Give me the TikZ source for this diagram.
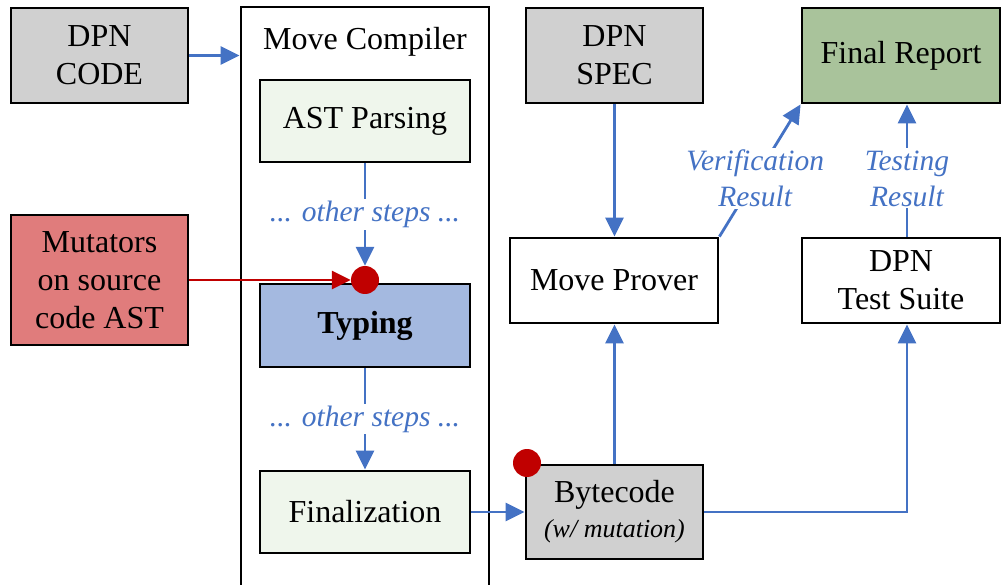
\documentclass[tikz,border=0pt]{standalone}
\usepackage{fontspec}
\setmainfont{Liberation Serif}
\usetikzlibrary{arrows.meta}
\definecolor{myblue}{HTML}{4472C4}
\definecolor{myred}{HTML}{C00000}
\definecolor{mygray}{HTML}{D0D0D0}
\definecolor{mygreen}{HTML}{EFF6EC}
\definecolor{mutred}{HTML}{E07C7C}
\definecolor{typblue}{HTML}{A4B9E0}
\definecolor{repgreen}{HTML}{A9C39B}
\begin{document}
\begin{tikzpicture}[x=1pt,y=-1pt,
  box/.style={draw=black,line width=2.8pt,rectangle,align=center,
    font=\fontsize{32}{38}\selectfont,inner sep=0pt},
  flow/.style={draw=myblue,line width=2.8pt,-{Triangle[length=19pt,width=18pt]}},
  redflow/.style={draw=myred,line width=2.8pt,-{Triangle[length=19pt,width=18pt]}},
  steplabel/.style={font=\fontsize{29.5}{36}\selectfont\itshape,text=myblue,
    fill=white,inner sep=2pt,align=center},
  dotnode/.style={circle,fill=myred,minimum size=28pt,inner sep=0pt}]
\useasboundingbox (0,0) rectangle (1002,585);
% container
\node[box,minimum width=248pt,minimum height=593pt] (mc) at (365,303.5) {};
\node[font=\fontsize{32}{38}\selectfont] (mctitle) at (365,42) {Move Compiler};
% left
\node[box,fill=mygray,minimum width=177pt,minimum height=95pt] (code) at (99.5,55.5) {DPN\\CODE};
\node[box,fill=mutred,minimum width=177pt,minimum height=130pt] (mut) at (99.5,280) {Mutators\\on source\\code AST};
% compiler steps
\node[box,fill=mygreen,minimum width=210pt,minimum height=82pt] (ast) at (365,121) {AST Parsing};
\node[box,fill=typblue,minimum width=210pt,minimum height=83pt] (typ) at (365,325.5) {\bfseries Typing};
\node[box,fill=mygreen,minimum width=210pt,minimum height=82pt] (fin) at (365,512) {Finalization};
\node[dotnode] (dot1) at (365,280) {};
% right
\node[box,fill=mygray,minimum width=177pt,minimum height=94pt] (byte) at (614.5,512)
  {Bytecode\\[-3pt]{\fontsize{26}{30}\selectfont\itshape (w/ mutation)}};
\node[dotnode] (dot2) at (527,463) {};
\node[box,fill=mygray,minimum width=177pt,minimum height=95pt] (spec) at (614.5,55.5) {DPN\\SPEC};
\node[box,fill=white,minimum width=208pt,minimum height=85pt] (mp) at (614,280.5) {Move Prover};
\node[box,fill=white,minimum width=198pt,minimum height=85pt] (ts) at (901,280.5) {DPN\\Test Suite};
\node[box,fill=repgreen,minimum width=198pt,minimum height=95pt] (fr) at (901,55.5) {Final Report};
% connectors
\draw[flow] (code.east) -- (code.east -| mc.west);
\draw[redflow] (mut.east |- dot1.west) -- (dot1.west);
\draw[flow] (ast.south) -- node[steplabel] (os1) {... other steps ...} (dot1.north);
\draw[flow] (typ.south) -- node[steplabel] (os2) {... other steps ...} (fin.north);
\draw[flow] (fin.east) -- (byte.west);
\draw[flow] (byte.north) -- (byte.north |- mp.south);
\draw[flow] (spec.south) -- (spec.south |- mp.north);
\coordinate (tcol) at (907,0);
\draw[flow] (byte.east) -- (byte.east -| tcol) -- (tcol |- ts.south);
\draw[flow] (mp.north east) -- node[steplabel,pos=0.44] (vr) {Verification\\Result} (fr.south west);
\draw[flow] (tcol |- ts.north) -- node[steplabel,pos=0.44] (tr) {Testing\\Result} (tcol |- fr.south);
\end{tikzpicture}
\end{document}
